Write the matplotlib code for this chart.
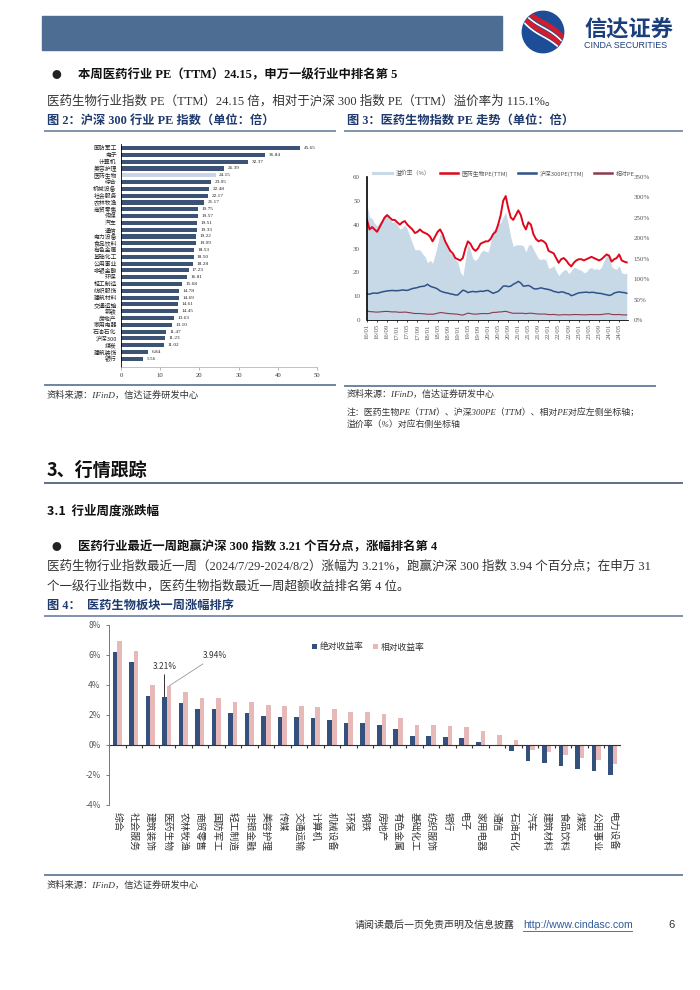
import numpy as np
import matplotlib
matplotlib.use("Agg")
import matplotlib.pyplot as plt
from matplotlib.lines import Line2D
from matplotlib.patches import Rectangle, Circle
from matplotlib.ticker import FuncFormatter
from matplotlib.transforms import blended_transform_factory

plt.rcParams["font.family"] = ["Noto Sans CJK SC", "DejaVu Sans"]
plt.rcParams["axes.unicode_minus"] = False

W, H = 700, 990
SERIF = ["Liberation Serif", "Noto Sans CJK SC"]
SANS = ["Liberation Sans", "DejaVu Sans"]

# 图2: 沪深300 行业 PE
pe_industries = ["国防军工", "电子", "计算机", "美容护理", "医药生物", "综合", "机械设备",
                 "社会服务", "农林牧渔", "商贸零售", "传媒", "汽车", "通信", "电力设备",
                 "食品饮料", "有色金属", "基础化工", "公用事业", "非银金融", "环保",
                 "轻工制造", "纺织服饰", "建筑材料", "交通运输", "钢铁", "房地产",
                 "家用电器", "石油石化", "沪深300", "煤炭", "建筑装饰", "银行"]
pe_values = [45.65, 36.84, 32.37, 26.39, 24.15, 23.05, 22.48, 22.17, 21.17, 19.75,
             19.57, 19.51, 19.33, 19.22, 19.09, 18.53, 18.50, 18.28, 17.23, 16.81,
             15.68, 14.78, 14.69, 14.61, 14.45, 13.63, 13.10, 11.47, 11.23, 11.02,
             6.84, 5.56]

# 图3: 月度读数 2016/01 - 2024/08
date_ticks = ["16/01", "16/05", "16/09", "17/01", "17/05", "17/09", "18/01", "18/05",
              "18/09", "19/01", "19/05", "19/09", "20/01", "20/05", "20/09", "21/01",
              "21/05", "21/09", "22/01", "22/05", "22/09", "23/01", "23/05", "23/09",
              "24/01", "24/05"]
pharma_pe = [42, 38, 39, 38, 37, 39, 41, 43, 44, 43, 42, 42,
             41, 40, 41, 41.5, 40, 39, 38, 36.5, 37, 38, 37, 36.5,
             36, 35, 33, 35, 37, 38, 36, 33, 31, 29, 28, 26,
             25.5, 25, 26, 30, 33, 32, 30, 29, 30, 32, 32.5, 33,
             33, 34, 36, 37, 40, 44, 50, 52, 47, 43, 42, 44,
             46, 44, 40, 38, 41, 40, 36, 34, 33, 33.5, 33, 32,
             29, 28.5, 28, 26, 24, 25.5, 26, 25, 23.5, 22.5, 24, 25,
             25.5, 25.5, 25, 25.5, 26, 26.5, 26, 25.5, 25, 25.5, 26.5, 27.5,
             27, 24.5, 25.5, 26, 27.5, 25, 24.5, 24.15]
hs300_pe = [11, 10.8, 11.2, 11.3, 11.2, 11.5, 11.8, 12, 12.2, 12.3, 12.4, 12.3,
            12.3, 12.4, 12.6, 12.5, 12.4, 12.8, 13.2, 13.4, 13.6, 14, 14.1, 14.3,
            15, 14.2, 13.8, 13.5, 13, 12.2, 11.8, 11.5, 11.3, 11, 10.8, 10.5,
            10.5, 11.5, 12.5, 12.2, 11.5, 11.8, 12, 11.8, 11.9, 12.1, 12, 12.3,
            12.4, 11.8, 11.2, 11.6, 12, 13, 14.2, 14.3, 14, 14.2, 15, 15.5,
            16.2, 15.5, 14.2, 14.3, 14.5, 14, 13.2, 13, 13.2, 13.5, 13.2, 13,
            12.8, 12.5, 12, 11.8, 11.5, 11.8, 11.7, 11.2, 11, 10.2, 10.5, 11,
            11.4, 11.5, 11.6, 11.7, 11.5, 11.6, 11.6, 11.3, 11.2, 11.1, 10.8, 10.6,
            10.3, 10.6, 11.3, 11.6, 11.8, 11.6, 11.5, 11.23]

# 图4: 一周涨幅 (%)
ret_industries = ["综合", "社会服务", "建筑装饰", "医药生物", "农林牧渔", "商贸零售",
                  "国防军工", "轻工制造", "非银金融", "美容护理", "传媒", "交通运输",
                  "计算机", "机械设备", "环保", "钢铁", "房地产", "有色金属", "基础化工",
                  "纺织服饰", "银行", "电子", "家用电器", "通信", "石油石化", "汽车",
                  "建筑材料", "食品饮料", "煤炭", "公用事业", "电力设备"]
abs_ret = [6.18, 5.51, 3.29, 3.21, 2.78, 2.42, 2.40, 2.16, 2.13, 1.93, 1.90, 1.90,
           1.80, 1.70, 1.50, 1.44, 1.33, 1.04, 0.60, 0.60, 0.53, 0.47, 0.22, -0.07,
           -0.40, -1.07, -1.20, -1.38, -1.62, -1.76, -2.02]
rel_ret = [6.91, 6.24, 4.02, 3.94, 3.51, 3.15, 3.13, 2.89, 2.86, 2.66, 2.63, 2.63,
           2.53, 2.43, 2.23, 2.17, 2.06, 1.77, 1.33, 1.33, 1.26, 1.20, 0.95, 0.66,
           0.33, -0.34, -0.47, -0.65, -0.89, -1.03, -1.29]

fig = plt.figure(figsize=(7, 9.9), dpi=100)


def fx(x):
    return x / W


def fy(y):
    return 1 - y / H


def axes_px(x0, y0, x1, y1):
    return fig.add_axes([fx(x0), fy(y1), (x1 - x0) / W, (y1 - y0) / H])


def text(x, y, s, **kw):
    kw.setdefault("va", "center")
    return fig.text(fx(x), fy(y), s, **kw)


def hline(x0, x1, y, color, lw):
    fig.add_artist(Line2D([fx(x0), fx(x1)], [fy(y), fy(y)], color=color, lw=lw))


# header
fig.add_artist(Rectangle((fx(42), fy(50)), (502 - 42) / W, 34 / H,
                         color="#4e6d93", transform=fig.transFigure))
lax = fig.add_axes([fx(520), fy(55), 46 / W, 46 / H])
lax.set_xlim(-1, 1)
lax.set_ylim(-1, 1)
lax.set_aspect("equal")
lax.axis("off")
circ = Circle((0, 0), 0.9, color="#1e4d98")
lax.add_patch(circ)
tt = np.linspace(-1.3, 1.3, 60)
for off, c, lw in [(0.42, "#d51c2a", 3.4), (0.2, "#ffffff", 1.2), (0.0, "#d51c2a", 3.4),
                   (-0.2, "#ffffff", 1.2)]:
    ln, = lax.plot(tt, -0.95 * tt + off + 0.18 * np.sin(2.2 * tt), color=c, lw=lw,
                   solid_capstyle="butt")
    ln.set_clip_path(circ)
text(584, 30, "信达证券", fontsize=16, fontweight="bold", color="#1b3f7d")
text(584, 45, "CINDA SECURITIES", fontsize=6.4, color="#1b3f7d", family=SANS)

# section 2 text
text(52, 75, "●", fontsize=7, color="#222")
text(78, 75, "本周医药行业 PE（TTM）24.15，申万一级行业中排名第 5", fontsize=8.9,
     fontweight="bold", family=SERIF, color="#111")
text(47, 101, "医药生物行业指数 PE（TTM）24.15 倍，相对于沪深 300 指数 PE（TTM）溢价率为 115.1%。",
     fontsize=9, family=SERIF, color="#333")
text(47, 121, "图 2：沪深 300 行业 PE 指数（单位：倍）", fontsize=8.8, fontweight="bold",
     family=SERIF, color="#1f3a6e")
text(347, 121, "图 3：医药生物指数 PE 走势（单位：倍）", fontsize=8.8, fontweight="bold",
     family=SERIF, color="#1f3a6e")
hline(45, 335, 131, "#7f93ad", 1.4)
hline(345, 682, 131, "#7f93ad", 1.4)

# 图2
ax2 = axes_px(121, 144, 317, 367)
yy = np.arange(len(pe_industries))
bar_colors = ["#c8d6e8" if n == "医药生物" else "#3c5375" for n in pe_industries]
ax2.barh(yy, pe_values, height=0.6, color=bar_colors)
ax2.set_ylim(len(pe_industries) - 1 + 1.2, -0.6)
ax2.set_xlim(0, 50)
ax2.set_xticks(range(0, 51, 10))
ax2.set_yticks(yy, pe_industries, fontsize=4.2)
ax2.tick_params(axis="y", length=0, pad=3, colors="#222")
ax2.tick_params(axis="x", labelsize=4.8, length=2, width=0.5, pad=2, color="#999",
                labelcolor="#333")
for lab in ax2.get_xticklabels():
    lab.set_fontfamily(SERIF)
for i, v in enumerate(pe_values):
    ax2.text(v + 0.9, i, f"{v:.2f}", fontsize=3.8, va="center", family=SERIF, color="#222")
for s in ["top", "right"]:
    ax2.spines[s].set_visible(False)
ax2.spines["left"].set_linewidth(0.6)
ax2.spines["bottom"].set_color("#aaa")
ax2.spines["bottom"].set_linewidth(0.5)

hline(45, 335, 385, "#6f84a0", 1.4)
text(47, 395, "资料来源：IFinD，信达证券研发中心", fontsize=6.7, style="italic",
     family=SERIF, color="#333")

# 图3
months = np.arange(len(pharma_pe))
pharma = np.array(pharma_pe)
hs = np.array(hs300_pe)
rel_pe = pharma / hs                 # 相对PE = 医药PE / 沪深300PE
premium = (rel_pe - 1) * 100         # 溢价率 %
ax3 = axes_px(367, 177, 628, 320)
ax3r = ax3.twinx()
ax3r.fill_between(months, 0, premium, color="#c7d8e7", lw=0)
ax3r.set_ylim(0, 350)
ax3r.set_yticks(range(0, 351, 50))
ax3r.yaxis.set_major_formatter(FuncFormatter(lambda v, p: f"{v:.0f}%"))
ax3r.tick_params(axis="y", length=0, labelsize=5, pad=4, labelcolor="#555")
for lab in ax3r.get_yticklabels():
    lab.set_fontfamily(SERIF)
ax3.set_zorder(ax3r.get_zorder() + 1)
ax3.patch.set_visible(False)
ax3.plot(months, pharma, color="#e1061b", lw=1.4)
ax3.plot(months, hs, color="#2f5288", lw=1.1)
ax3.plot(months, rel_pe, color="#8c3b4b", lw=0.8)
ax3.set_ylim(0, 60)
ax3.set_xlim(0, months[-1] + 0.5)
ax3.set_yticks(range(0, 61, 10))
ax3.set_xticks(months[::4][:len(date_ticks)], date_ticks, rotation=90)
ax3.tick_params(axis="y", length=0, labelsize=5, pad=5, labelcolor="#555")
ax3.tick_params(axis="x", labelsize=4.8, length=1.5, width=0.5, pad=1.5, labelcolor="#555")
for lab in ax3.get_xticklabels() + ax3.get_yticklabels():
    lab.set_fontfamily(SERIF)
for a in (ax3, ax3r):
    for s in ["top", "right"]:
        a.spines[s].set_visible(False)
ax3r.spines["left"].set_visible(False)
ax3r.spines["bottom"].set_visible(False)
ax3.spines["left"].set_linewidth(1.2)
ax3.spines["bottom"].set_linewidth(0.6)
handles = [Line2D([], [], color="#c7d8e7", lw=2.2), Line2D([], [], color="#e1061b", lw=1.8),
           Line2D([], [], color="#2f5288", lw=1.8), Line2D([], [], color="#8c3b4b", lw=1.8)]
ax3.legend(handles, ["溢价率（%）", "医药生物PE(TTM)", "沪深300PE(TTM)", "相对PE"],
           loc="lower left", bbox_to_anchor=(0.02, 0.995), ncol=4, frameon=False,
           fontsize=4.2, handlelength=3.2, columnspacing=1.6, handletextpad=0.6,
           borderaxespad=0, borderpad=0.2, labelcolor="#555")

hline(345, 655, 386, "#6f84a0", 1.4)
text(347, 394, "资料来源：IFinD，信达证券研发中心", fontsize=6.5, style="italic",
     family=SERIF, color="#333")
text(347, 413, "注：医药生物PE（TTM）、沪深300PE（TTM）、相对PE对应左侧坐标轴；",
     fontsize=6.4, style="italic", family=SERIF, color="#333")
text(347, 425, "溢价率（%）对应右侧坐标轴", fontsize=6.4, style="italic", family=SERIF,
     color="#333")

# section 3
text(47, 470, "3、行情跟踪", fontsize=13, fontweight="bold", color="#111")
hline(45, 682, 483, "#5d7088", 1.4)
text(47, 511, "3.1  行业周度涨跌幅", fontsize=9, fontweight="bold", color="#111")
text(52, 547, "●", fontsize=7, color="#222")
text(78, 547, "医药行业最近一周跑赢沪深 300 指数 3.21 个百分点，涨幅排名第 4", fontsize=8.9,
     fontweight="bold", family=SERIF, color="#111")
text(47, 566, "医药生物行业指数最近一周（2024/7/29-2024/8/2）涨幅为 3.21%，跑赢沪深 300 指数 3.94 个百分点；在申万 31",
     fontsize=9, family=SERIF, color="#333")
text(47, 586, "个一级行业指数中，医药生物指数最近一周超额收益排名第 4 位。", fontsize=9,
     family=SERIF, color="#333")
text(47, 606, "图 4：  医药生物板块一周涨幅排序", fontsize=8.8, fontweight="bold",
     family=SERIF, color="#1f3a6e")
hline(45, 682, 616, "#7f93ad", 1.4)

# 图4
ax4 = axes_px(109, 625, 621, 805)
xx = np.arange(len(ret_industries))
bw = 0.28
ax4.bar(xx - bw / 2, abs_ret, width=bw, color="#34507d", label="绝对收益率")
ax4.bar(xx + bw / 2, rel_ret, width=bw, color="#e6b9b8", label="相对收益率")
ax4.set_xlim(-0.5, len(ret_industries) - 0.5)
ax4.set_ylim(-4, 8)
ax4.set_yticks(range(-4, 9, 2))
ax4.yaxis.set_major_formatter(FuncFormatter(lambda v, p: f"{v:.0f}%"))
ax4.tick_params(axis="y", labelsize=6, length=2.5, width=0.6, color="#666", labelcolor="#555")
ax4.set_xticks([])
for s in ["top", "right", "bottom"]:
    ax4.spines[s].set_visible(False)
ax4.spines["left"].set_color("#777")
ax4.spines["left"].set_linewidth(0.7)
ax4.axhline(0, color="#333", lw=0.8)
ax4.vlines(np.arange(len(ret_industries) + 1) - 0.5, -0.18, 0, color="#333", lw=0.8)
trans = blended_transform_factory(ax4.transData, ax4.transAxes)
for i, n in enumerate(ret_industries):
    ax4.text(i, -0.04, n, transform=trans, rotation=-90, ha="center", va="top",
             fontsize=7, color="#333")
k = ret_industries.index("医药生物")
ax4.annotate(f"{abs_ret[k]:.2f}%", xy=(k - bw / 2, abs_ret[k]), xytext=(k - bw / 2, abs_ret[k] + 1.75),
             ha="center", va="bottom", fontsize=6, color="#333",
             arrowprops=dict(arrowstyle="-", color="#333", lw=0.7, shrinkA=1, shrinkB=0))
ax4.annotate(f"{rel_ret[k]:.2f}%", xy=(k + bw / 2, rel_ret[k]), xytext=(k + 2.2, rel_ret[k] + 2.0),
             ha="left", va="center", fontsize=6, color="#333",
             arrowprops=dict(arrowstyle="-", color="#999", lw=0.6, shrinkA=1, shrinkB=0))
ax4.legend(loc="center left", bbox_to_anchor=(0.39, 0.878), ncol=2, frameon=False,
           fontsize=6.3, handlelength=0.6, handleheight=0.6, handletextpad=0.3,
           columnspacing=1.0, borderaxespad=0, labelcolor="#333")

hline(45, 682, 875, "#6f84a0", 1.4)
text(47, 885, "资料来源：IFinD，信达证券研发中心", fontsize=6.7, style="italic",
     family=SERIF, color="#333")

# footer
text(355, 925, "请阅读最后一页免责声明及信息披露", fontsize=7.2, family=SERIF, color="#333")
text(523, 925, "http://www.cindasc.com", fontsize=7.6, color="#2e5b9a", family=SANS)
hline(523, 632, 931, "#2e5b9a", 0.6)
text(668, 925, "6", fontsize=8, color="#333", family=SANS)

fig.savefig("out.png", dpi=100)
